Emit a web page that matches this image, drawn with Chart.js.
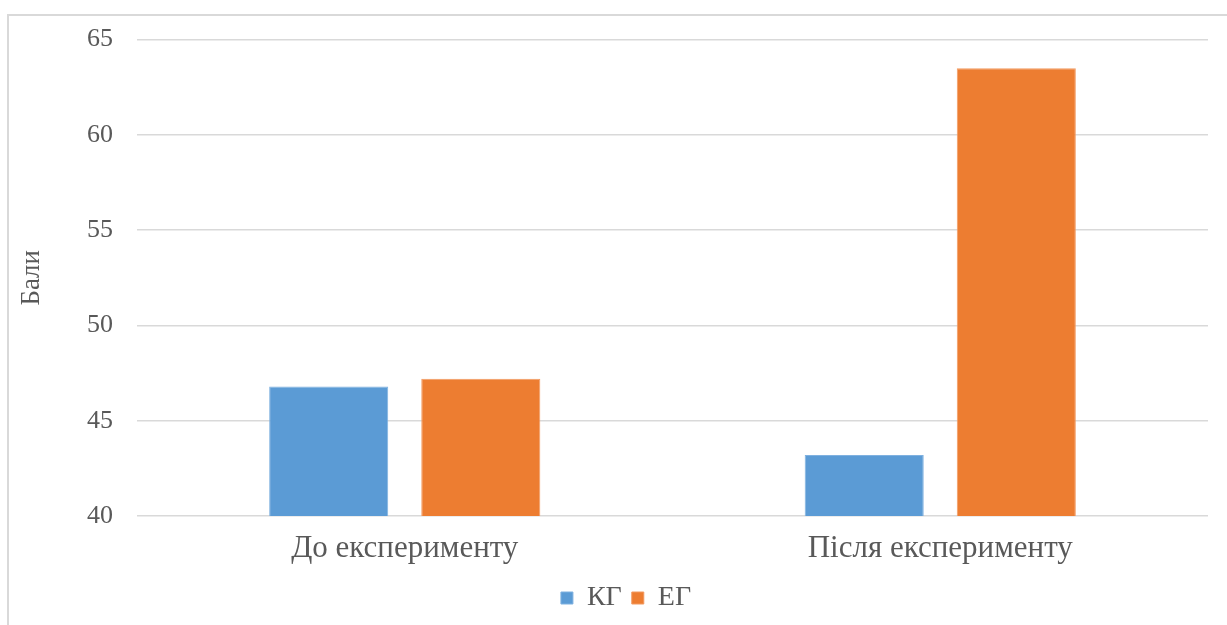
<!DOCTYPE html>
<html lang="uk">
<head>
  <meta charset="UTF-8" />
  <title>Бали</title>
  <script src="https://cdn.jsdelivr.net/npm/chart.js"></script>
  <style>
    html, body {
      margin: 0;
      padding: 0;
      background: #ffffff;
      overflow: hidden;
    }
    #wrap {
      position: relative;
      width: 1227px;
      height: 625px;
    }
    #frame {
      position: absolute;
      left: 7px;
      top: 14px;
      width: 1240px;
      height: 640px;
      border: 2px solid #d9d9d9;
      pointer-events: none;
    }
  </style>
</head>
<body>
  <div id="wrap">
    <canvas id="scoreChart" width="1227" height="625"></canvas>
    <div id="frame"></div>
  </div>

<script>
  const categories = ['До експерименту', 'Після експерименту'];
  const kgScores = [46.8, 43.2];
  const egScores = [47.2, 63.5];
  const yTicks = [40, 45, 50, 55, 60, 65];

  const textColor = '#595959';
  const serif = '"Liberation Serif", "Times New Roman", serif';

  Chart.defaults.font.family = serif;
  Chart.defaults.color = textColor;

  // legend sits centred under the whole frame, not just the plot
  const shiftLegend = {
    id: 'shiftLegend',
    afterLayout(chart) {
      chart.legend.left += 44;
    }
  };

  const ctx = document.getElementById('scoreChart').getContext('2d');
  new Chart(ctx, {
    type: 'bar',
    data: {
      labels: categories,
      datasets: [
        {
          label: 'КГ',
          data: kgScores,
          backgroundColor: '#5b9bd5',
          borderColor: '#7fb1e0',
          borderWidth: 1,
          categoryPercentage: 0.568,
          barPercentage: 0.783
        },
        {
          label: 'ЕГ',
          data: egScores,
          backgroundColor: '#ed7d31',
          borderColor: '#f29a60',
          borderWidth: 1,
          categoryPercentage: 0.568,
          barPercentage: 0.783
        }
      ]
    },
    plugins: [shiftLegend],
    options: {
      responsive: false,
      animation: false,
      layout: { padding: { top: 36, right: 19, left: 0, bottom: 3 } },
      plugins: {
        tooltip: { enabled: false },
        legend: {
          position: 'bottom',
          labels: {
            boxWidth: 12,
            boxHeight: 12,
            padding: 10,
            font: { size: 28 },
            color: textColor
          }
        }
      },
      scales: {
        x: {
          grid: { display: false },
          border: { display: false },
          afterFit: scale => { scale.height = 58; },
          ticks: { font: { size: 31 }, padding: 6, color: textColor }
        },
        y: {
          min: 40,
          max: 65,
          afterBuildTicks: scale => {
            scale.ticks = yTicks.map(v => ({ value: v }));
          },
          afterFit: scale => { scale.width = 137; },
          grid: { color: '#d9d9d9', lineWidth: 1.5, drawTicks: false },
          border: { display: false },
          ticks: { font: { size: 26 }, padding: 24, color: textColor },
          title: {
            display: true,
            text: 'Бали',
            font: { size: 27 },
            color: textColor,
            padding: { top: 16, bottom: 0 }
          }
        }
      }
    }
  });
</script>
</body>
</html>
